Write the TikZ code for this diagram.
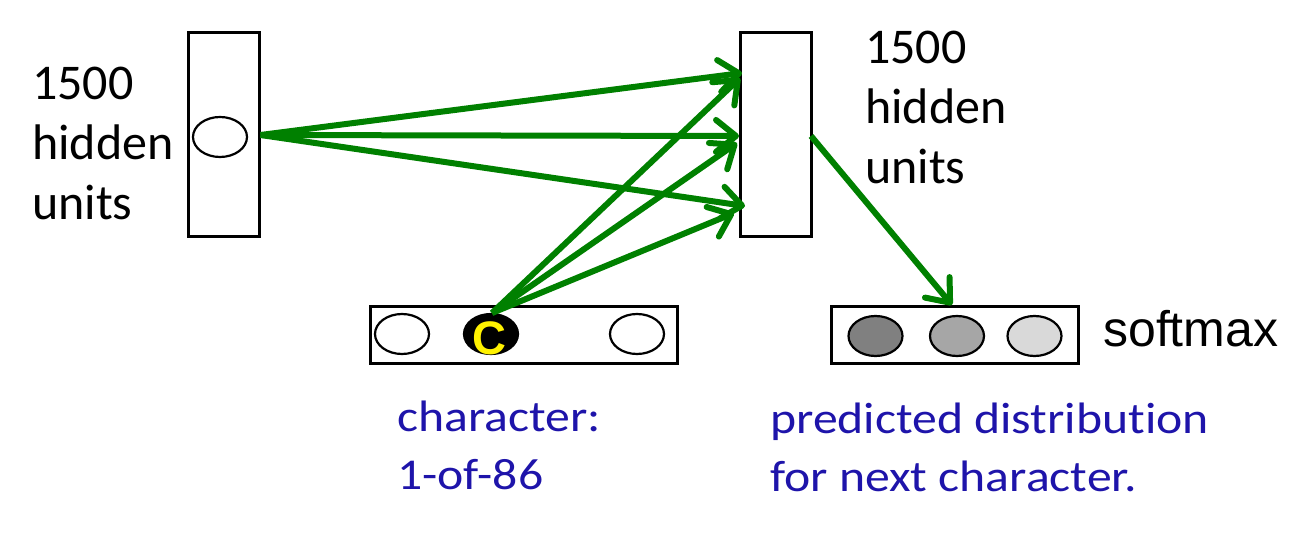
\documentclass[tikz,border=0pt]{standalone}
\usepackage{fontspec}
\setmainfont{Carlito}[Ligatures=NoCommon]
\newfontfamily\arialf{Liberation Sans}
\newfontfamily\bluefont[FakeStretch=1.13,Ligatures=NoCommon]{Carlito}
\usetikzlibrary{arrows.meta,shapes.geometric}
\definecolor{arrowgreen}{RGB}{0,128,0}
\definecolor{labelblue}{RGB}{30,20,170}
\begin{document}
\begin{tikzpicture}[x=1pt,y=-1pt,
  layerbox/.style={draw=black,line width=3pt,fill=white,inner sep=0pt},
  unit/.style={ellipse,draw=black,line width=2.2pt,minimum width=54pt,minimum height=40pt,inner sep=0pt},
  conn/.style={draw=arrowgreen,line width=6pt,-{Straight Barb[length=20pt,width=32pt,round]}},
  blacklabel/.style={inner sep=0pt,anchor=south west,align=left,text depth=0pt,font=\fontsize{50}{60}\selectfont},
  bluelabel/.style={inner sep=0pt,anchor=south west,align=left,text depth=0pt,text=labelblue,font=\bluefont\fontsize{44}{58}\selectfont}]
\useasboundingbox (0,0) rectangle (1315,537);
% layers
\node[layerbox,minimum width=71pt,minimum height=204pt] (h1) at (223.5,135) {};
\node[layerbox,minimum width=71pt,minimum height=204pt] (h2) at (775.5,135) {};
\node[layerbox,minimum width=307pt,minimum height=57pt] (inp) at (523.5,335.5) {};
\node[layerbox,minimum width=247pt,minimum height=57pt] (outp) at (955,335.5) {};
% units
\node[unit,fill=white] (e1) at (220,137) {};
\node[unit,fill=white] (i1) at (402,334) {};
\node[unit,fill=black] (ic) at (491,334) {};
\node[text=yellow,inner sep=0pt,font=\arialf\bfseries\fontsize{47}{47}\selectfont] (cl) at (489,338) {C};
\node[unit,fill=white] (i3) at (637,334) {};
\node[unit,fill=black!50] (s1) at (875.5,336) {};
\node[unit,fill=black!35] (s2) at (957,336) {};
\node[unit,fill=black!15] (s3) at (1034.5,336) {};
% targets on h2
\coordinate (t1) at (742,73);
\coordinate (t2) at (739,136);
\coordinate (t3) at (745,206);
\coordinate (u1) at (740,78);
\coordinate (u2) at (737,143);
\coordinate (u3) at (734,213);
\coordinate (cs) at (492,313);
\coordinate (os) at (811,136);
\coordinate (ot) at (952,305);
% connectors
\draw[conn] (h1.east) -- (t1);
\draw[conn] (h1.east) -- (t2);
\draw[conn] (h1.east) -- (t3);
\draw[conn] (cs) -- (u1);
\draw[conn] (cs) -- (u2);
\draw[conn] (cs) -- (u3);
\draw[conn] (os) -- (ot);
% labels
\node[blacklabel] (lh1) at (32,220) {1500\\hidden\\units};
\node[blacklabel] (lh2) at (865,184) {1500\\hidden\\units};
\node[inner sep=0pt,anchor=base west,font=\arialf\fontsize{50}{60}\selectfont] (lsm) at (1103,347) {softmax};
\node[bluelabel] (lin) at (397,490) {character:\\1-of-86};
\node[bluelabel] (lout) at (770,492) {predicted distribution\\for next character.};
\end{tikzpicture}
\end{document}
